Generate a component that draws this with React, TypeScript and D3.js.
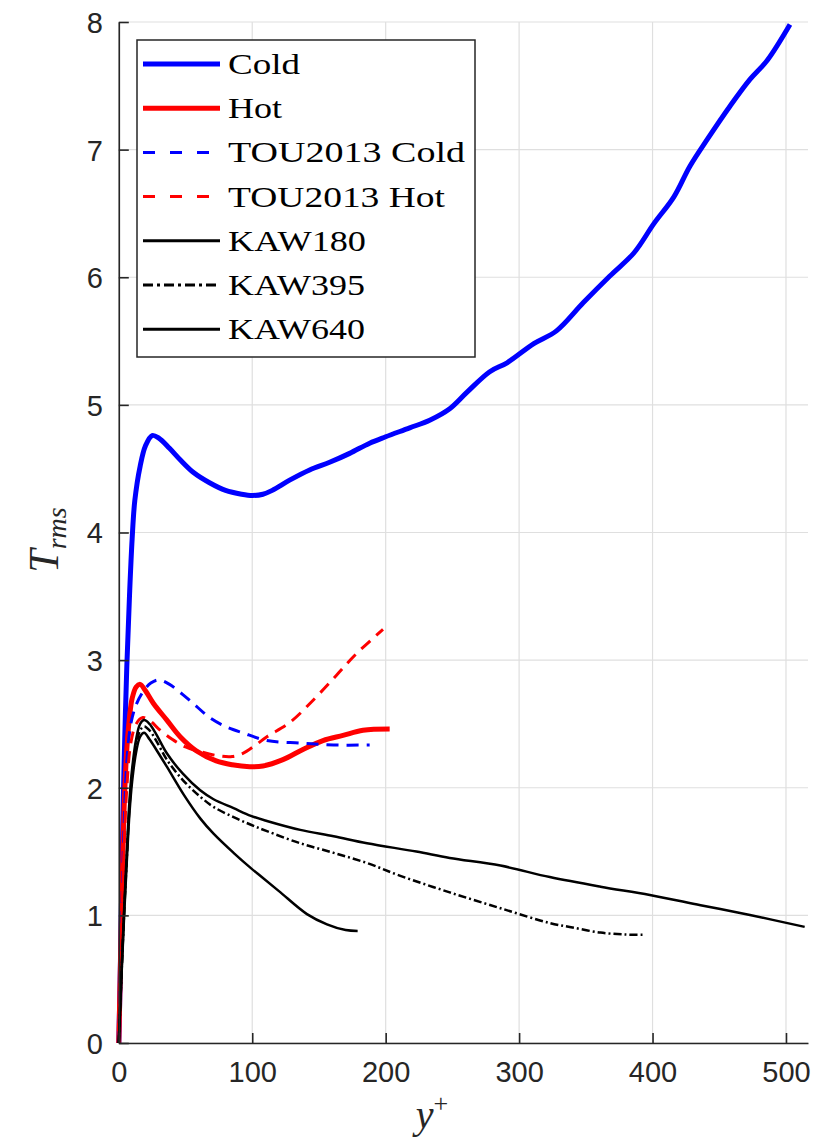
import * as d3 from "d3";
import { useEffect, useRef } from "react";

// y+ and T_rms values
const coldY = [0, 1, 2, 3, 4, 6, 8, 10, 12, 16, 20, 25, 30, 38, 46, 56, 68, 80, 92, 100, 108, 115, 128, 143, 158, 173, 188, 200, 218, 233, 248, 261, 278, 291, 311, 328, 348, 368, 386, 401, 416, 428, 441, 458, 473, 486, 503];
const coldT = [0, 0.5, 1.1, 1.7, 2.2, 2.95, 3.5, 3.95, 4.25, 4.52, 4.68, 4.76, 4.74, 4.66, 4.57, 4.47, 4.39, 4.33, 4.3, 4.29, 4.3, 4.33, 4.41, 4.49, 4.55, 4.62, 4.7, 4.75, 4.82, 4.88, 4.97, 5.1, 5.26, 5.33, 5.48, 5.58, 5.8, 6.01, 6.19, 6.42, 6.63, 6.87, 7.08, 7.34, 7.55, 7.7, 7.98];

const hotY = [0, 1, 2, 3, 4, 6, 8, 10, 13, 16, 20, 26, 36, 46, 58, 73, 85, 98, 108, 123, 138, 153, 168, 183, 203];
const hotT = [0, 0.5, 1.0, 1.45, 1.85, 2.3, 2.55, 2.7, 2.79, 2.81, 2.76, 2.66, 2.53, 2.4, 2.29, 2.21, 2.18, 2.165, 2.17, 2.22, 2.3, 2.37, 2.41, 2.45, 2.46];

const touColdY = [0, 2, 4, 6, 9, 13, 18, 24, 30, 38, 48, 58, 68, 80, 93, 111, 136, 161, 188];
const touColdT = [0, 0.9, 1.7, 2.2, 2.5, 2.65, 2.75, 2.82, 2.845, 2.81, 2.73, 2.64, 2.55, 2.48, 2.43, 2.37, 2.35, 2.335, 2.335];

const touHotY = [0, 2, 4, 6, 9, 13, 18, 24, 30, 40, 50, 62, 75, 85, 93, 102, 111, 128, 146, 163, 178, 198];
const touHotT = [0, 0.85, 1.55, 2.0, 2.35, 2.5, 2.55, 2.52, 2.46, 2.38, 2.32, 2.28, 2.25, 2.245, 2.27, 2.33, 2.4, 2.51, 2.69, 2.88, 3.05, 3.24];

const kaw180Y = [0, 2, 4, 6, 8, 10, 13, 16, 19, 23, 28, 36, 49, 61, 71, 86, 99, 106, 120, 141, 156, 170, 179];
const kaw180T = [0, 0.52, 1.0, 1.42, 1.8, 2.05, 2.28, 2.4, 2.43, 2.38, 2.3, 2.165, 1.94, 1.76, 1.64, 1.49, 1.37, 1.31, 1.19, 1.01, 0.93, 0.885, 0.878];

const kaw395Y = [0, 2, 4, 6, 8, 10, 13, 16, 19, 23, 28, 36, 48, 61, 71, 86, 99, 111, 136, 161, 186, 211, 248, 286, 323, 340, 361, 380, 393];
const kaw395T = [0, 0.53, 1.02, 1.45, 1.85, 2.1, 2.33, 2.45, 2.48, 2.45, 2.37, 2.22, 2.06, 1.93, 1.85, 1.77, 1.71, 1.66, 1.565, 1.49, 1.41, 1.31, 1.18, 1.056, 0.94, 0.905, 0.865, 0.85, 0.848];

const kaw640Y = [0, 2, 4, 6, 8, 10, 13, 16, 19, 23, 28, 36, 48, 61, 71, 86, 99, 111, 136, 161, 186, 223, 248, 286, 323, 361, 398, 436, 473, 514];
const kaw640T = [0, 0.55, 1.05, 1.5, 1.9, 2.15, 2.38, 2.5, 2.53, 2.5, 2.42, 2.27, 2.11, 1.98, 1.91, 1.84, 1.78, 1.74, 1.67, 1.62, 1.565, 1.5, 1.45, 1.39, 1.3, 1.225, 1.16, 1.08, 1.003, 0.91];

const seriesNames = ["Cold", "Hot", "TOU2013 Cold", "TOU2013 Hot", "KAW180", "KAW395", "KAW640"];
const xTicks = [0, 100, 200, 300, 400, 500];
const yTicks = [0, 1, 2, 3, 4, 5, 6, 7, 8];

const series = [
    { name: seriesNames[0], x: coldY, y: coldT, color: "#0000ff", width: 5, dash: null, textW: 72 },
    { name: seriesNames[1], x: hotY, y: hotT, color: "#ff0000", width: 5, dash: null, textW: 54 },
    { name: seriesNames[2], x: touColdY, y: touColdT, color: "#0000ff", width: 3, dash: "12,8", textW: 237 },
    { name: seriesNames[3], x: touHotY, y: touHotT, color: "#ff0000", width: 3, dash: "12,8", textW: 217 },
    { name: seriesNames[4], x: kaw180Y, y: kaw180T, color: "#000000", width: 2.5, dash: null, textW: 138 },
    { name: seriesNames[5], x: kaw395Y, y: kaw395T, color: "#000000", width: 2.5, dash: "8,3,2,3", textW: 137 },
    { name: seriesNames[6], x: kaw640Y, y: kaw640T, color: "#000000", width: 2.5, dash: null, textW: 137 },
];

const App = () => {
    const svgRef = useRef(null);

    useEffect(() => {
        const svg = d3.select(svgRef.current);
        svg.selectAll("*").remove();

        const left = 118.8, right = 808, top = 22, bottom = 1043;
        const axisColor = "#262626";

        const x = d3.scaleLinear().domain([0, 516.5]).range([left, right]);
        const y = d3.scaleLinear().domain([0, 8]).range([bottom, top]);

        // grid
        const grid = svg.append("g");
        grid.selectAll(".gx")
            .data(xTicks)
            .enter()
            .append("line")
            .attr("x1", d => x(d)).attr("x2", d => x(d))
            .attr("y1", top).attr("y2", bottom)
            .attr("stroke", "#dfdfdf").attr("stroke-width", 1.2);
        grid.selectAll(".gy")
            .data(yTicks)
            .enter()
            .append("line")
            .attr("x1", left).attr("x2", right)
            .attr("y1", d => y(d)).attr("y2", d => y(d))
            .attr("stroke", "#dfdfdf").attr("stroke-width", 1.2);

        // curves
        const line = d3.line()
            .x(d => x(d[0]))
            .y(d => y(d[1]))
            .curve(d3.curveCatmullRom.alpha(0.5));

        series.forEach(s => {
            const pts = s.x.map((v, i) => [v, s.y[i]]);
            svg.append("path")
                .attr("d", line(pts))
                .attr("fill", "none")
                .attr("stroke", s.color)
                .attr("stroke-width", s.width)
                .attr("stroke-linejoin", "round")
                .attr("stroke-dasharray", s.dash);
        });

        // axes
        const xAxis = d3.axisBottom(x).tickValues(xTicks).tickSizeInner(-10).tickSizeOuter(0).tickPadding(18);
        const xg = svg.append("g").attr("transform", `translate(0, ${bottom})`).call(xAxis);
        const yAxis = d3.axisLeft(y).tickValues(yTicks).tickSizeInner(-10).tickSizeOuter(0).tickPadding(16);
        const yg = svg.append("g").attr("transform", `translate(${left}, 0)`).call(yAxis);

        [xg, yg].forEach(g => {
            g.select(".domain").attr("stroke", axisColor).attr("stroke-width", 1.6);
            g.selectAll(".tick line").attr("stroke", axisColor).attr("stroke-width", 1.6);
            g.selectAll(".tick text")
                .attr("fill", axisColor)
                .style("font-family", "'Liberation Sans', Arial, sans-serif")
                .style("font-size", "29px");
        });
        xg.selectAll(".tick text").attr("dy", "0.71em");
        yg.selectAll(".tick text").attr("dy", "0.36em");

        // axis labels
        const xl = svg.append("text")
            .attr("x", 432).attr("y", 1128)
            .attr("text-anchor", "middle")
            .style("font-family", "'Liberation Serif', serif")
            .style("font-style", "italic")
            .style("font-size", "40px")
            .attr("fill", axisColor);
        xl.append("tspan").text("y");
        xl.append("tspan").attr("dy", -16).style("font-size", "26px").style("font-style", "normal").text("+");

        const yl = svg.append("text")
            .attr("transform", "translate(58, 540) rotate(-90)")
            .attr("text-anchor", "middle")
            .style("font-family", "'Liberation Serif', serif")
            .style("font-style", "italic")
            .style("font-size", "42px")
            .attr("fill", axisColor);
        yl.append("tspan").text("T");
        yl.append("tspan").attr("dy", 8).style("font-size", "28px").text("rms");

        // legend
        const lg = svg.append("g");
        lg.append("rect")
            .attr("x", 137).attr("y", 40)
            .attr("width", 338).attr("height", 317)
            .attr("fill", "white")
            .attr("stroke", axisColor)
            .attr("stroke-width", 1.5);
        series.forEach((s, i) => {
            const cy = 64 + i * 44.2;
            lg.append("line")
                .attr("x1", 143).attr("x2", 220)
                .attr("y1", cy).attr("y2", cy)
                .attr("stroke", s.color)
                .attr("stroke-width", s.width === 5 ? 5 : 3)
                .attr("stroke-dasharray", s.dash === "12,8" ? "12,15" : s.dash === null ? null : "10,4,3,4");
            lg.append("text")
                .attr("x", 228).attr("y", cy + 10)
                .attr("textLength", s.textW)
                .attr("lengthAdjust", "spacingAndGlyphs")
                .style("font-family", "'Liberation Serif', serif")
                .style("font-size", "30px")
                .attr("fill", "#000")
                .text(s.name);
        });
    }, []);

    return (
        <svg
            ref={svgRef}
            width={839}
            height={1139}
            style={{ position: "absolute", left: 0, top: 0, background: "white" }}
        />
    );
};

export default App;
